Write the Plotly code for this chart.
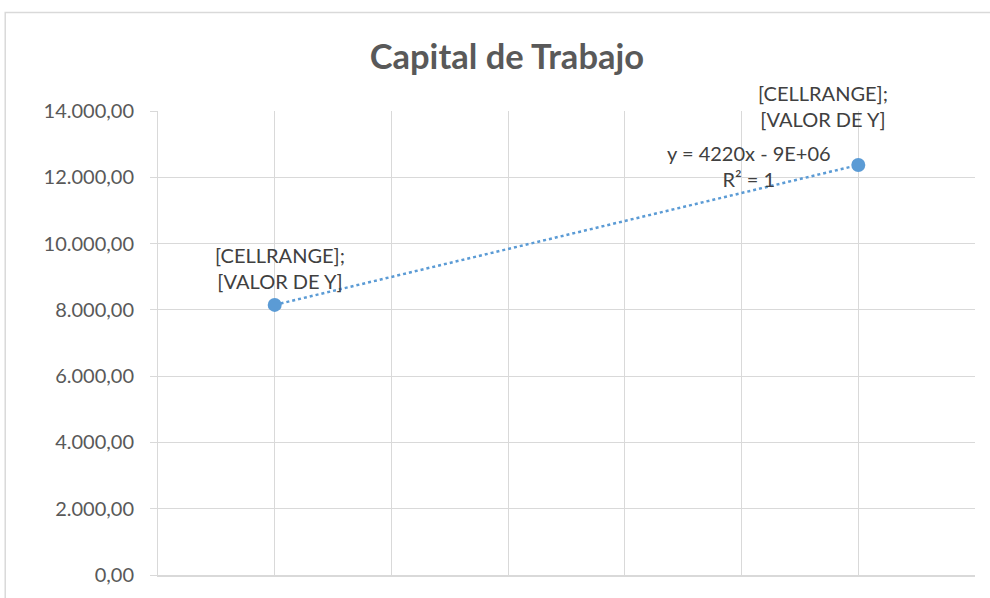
import numpy as np
import plotly.graph_objects as go

# data (x = year, y = capital de trabajo)
years = [2017, 2018]
capital = [8150, 12370]
point_labels = ["[CELLRANGE];<br>[VALOR DE Y]", "[CELLRANGE];<br>[VALOR DE Y]"]
y_ticks = [0, 2000, 4000, 6000, 8000, 10000, 12000, 14000]

BLUE = "#5b9bd5"
GRID = "#d9d9d9"
TEXT = "#595959"
LABEL = "#404040"
FONT = "Lato"

slope, intercept = np.polyfit(years, capital, 1)
trend = [slope * x + intercept for x in years]

fig = go.Figure()
fig.add_trace(
    go.Scatter(
        x=years,
        y=trend,
        mode="lines",
        line=dict(color=BLUE, width=2.5, dash="dot"),
        hoverinfo="skip",
        showlegend=False,
    )
)
fig.add_trace(
    go.Scatter(
        x=years,
        y=capital,
        mode="markers",
        marker=dict(color=BLUE, size=14),
        showlegend=False,
    )
)

# data labels (Excel placeholders)
label_shifts = [(5, 10), (-35, 32)]
for x, y, txt, (dx, dy) in zip(years, capital, point_labels, label_shifts):
    fig.add_annotation(
        x=x, y=y, text=txt, showarrow=False,
        xshift=dx, yshift=dy, xanchor="center", yanchor="bottom",
        font=dict(family=FONT, size=20, color=LABEL),
    )

# trendline equation
fig.add_annotation(
    xref="paper", yref="paper", x=0.7234, y=0.882,
    xanchor="center", yanchor="middle",
    text="y = 4220x - 9E+06<br>R² = 1", showarrow=False,
    font=dict(family=FONT, size=20, color=LABEL),
)

# chart frame
fig.add_shape(
    type="rect", xref="paper", yref="paper",
    x0=-0.187, x1=1.2, y0=-0.2, y1=1.2124,
    line=dict(color=GRID, width=1.5), layer="below",
)

fig.update_layout(
    width=990,
    height=598,
    margin=dict(l=158, r=15, t=111, b=21),
    paper_bgcolor="white",
    plot_bgcolor="white",
    separators=",.",
    title=dict(
        text="<b>Capital de Trabajo</b>",
        x=0.512, xanchor="center", y=0.905, yanchor="middle",
        font=dict(family=FONT, size=34.5, color=TEXT),
    ),
    xaxis=dict(
        range=[2016.8, 2018.2],
        tick0=2016.8, dtick=0.2,
        showgrid=True, gridcolor=GRID, gridwidth=1,
        showticklabels=False, zeroline=False,
        showline=True, linecolor=GRID, linewidth=1.5,
    ),
    yaxis=dict(
        range=[0, 14000],
        tickvals=y_ticks,
        tickformat=",.2f",
        showgrid=True, gridcolor=GRID, gridwidth=1,
        zeroline=False,
        showline=True, linecolor=GRID, linewidth=1,
        ticks="outside", ticklen=7, tickcolor=GRID,
        ticklabelstandoff=12,
        tickfont=dict(family=FONT, size=20, color=TEXT),
    ),
)

fig.write_html(
    "out.html",
    config={"displayModeBar": False},
    post_script="document.body.style.margin = '0';",
)
